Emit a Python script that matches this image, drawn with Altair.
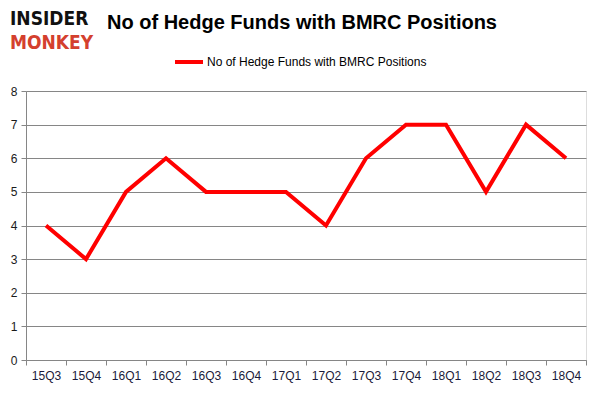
import altair as alt
import pandas as pd

quarters = ["15Q3", "15Q4", "16Q1", "16Q2", "16Q3", "16Q4", "17Q1", "17Q2",
            "17Q3", "17Q4", "18Q1", "18Q2", "18Q3", "18Q4"]
funds = [4, 3, 5, 6, 5, 5, 5, 4, 6, 7, 7, 5, 7, 6]
series_name = "No of Hedge Funds with BMRC Positions"
title_text = "No of Hedge Funds with BMRC Positions"

df = pd.DataFrame({"pos": [i + 0.5 for i in range(len(quarters))],
                   "q": quarters, "v": funds})

label_arr = "[" + ",".join(f"'{q}'" for q in quarters) + ",'']"

grey = "#868686"

line = alt.Chart(df).mark_line(color="#ff0000", strokeWidth=4, strokeJoin="miter").encode(
    x=alt.X("pos:Q", scale=alt.Scale(domain=[0, len(quarters)], nice=False, zero=False),
            axis=alt.Axis(values=list(range(len(quarters) + 1)), title=None,
                          labelExpr=f"{label_arr}[datum.value]", labelOffset=20,
                          labelFont="Liberation Sans", labelFontSize=12, labelColor="#1a1a3a",
                          domainColor=grey, tickColor=grey, tickSize=5, labelPadding=5,
                          grid=False, labelFlush=False, labelOverlap=False)),
    y=alt.Y("v:Q", scale=alt.Scale(domain=[0, 8], nice=False),
            axis=alt.Axis(values=list(range(9)), title=None, grid=True, gridColor=grey,
                          domainColor=grey, tickColor=grey, tickSize=5,
                          labelFont="Liberation Sans", labelFontSize=12, labelColor="#1a1a1a",
                          labelPadding=4)),
)

title = alt.Chart(pd.DataFrame({"t": [title_text]})).mark_text(
    font="Liberation Sans", fontSize=20, fontWeight="bold", color="#000000",
    align="center", baseline="middle").encode(
    text="t:N", x=alt.value(276), y=alt.value(-68))

legend_line = alt.Chart(pd.DataFrame({"a": [0]})).mark_rule(color="#ff0000", strokeWidth=4).encode(
    x=alt.value(149), x2=alt.value(177), y=alt.value(-29))
legend_text = alt.Chart(pd.DataFrame({"t": [series_name]})).mark_text(
    font="Liberation Sans", fontSize=12, color="#000000", align="left", baseline="middle").encode(
    text="t:N", x=alt.value(181), y=alt.value(-29))

logo1 = alt.Chart(pd.DataFrame({"t": ["INSIDER"]})).mark_text(
    font="DejaVu Sans Condensed", fontSize=19, fontWeight="bold", color="#111111",
    align="left", baseline="alphabetic").encode(
    text="t:N", x=alt.value(-16), y=alt.value(-66))
logo2 = alt.Chart(pd.DataFrame({"t": ["MONKEY"]})).mark_text(
    font="DejaVu Sans Condensed", fontSize=19, fontWeight="bold", color="#d4402e",
    align="left", baseline="alphabetic").encode(
    text="t:N", x=alt.value(-16), y=alt.value(-42))

chart = alt.layer(line, title, legend_line, legend_text, logo1, logo2).properties(
    width=560, height=269,
    autosize=alt.AutoSizeParams(type="none"),
    padding={"left": 18, "top": 83, "right": 5, "bottom": 28},
).configure_view(stroke=None).configure(background="white")

chart.save("out.html", embed_options={"renderer": "svg", "actions": False})
